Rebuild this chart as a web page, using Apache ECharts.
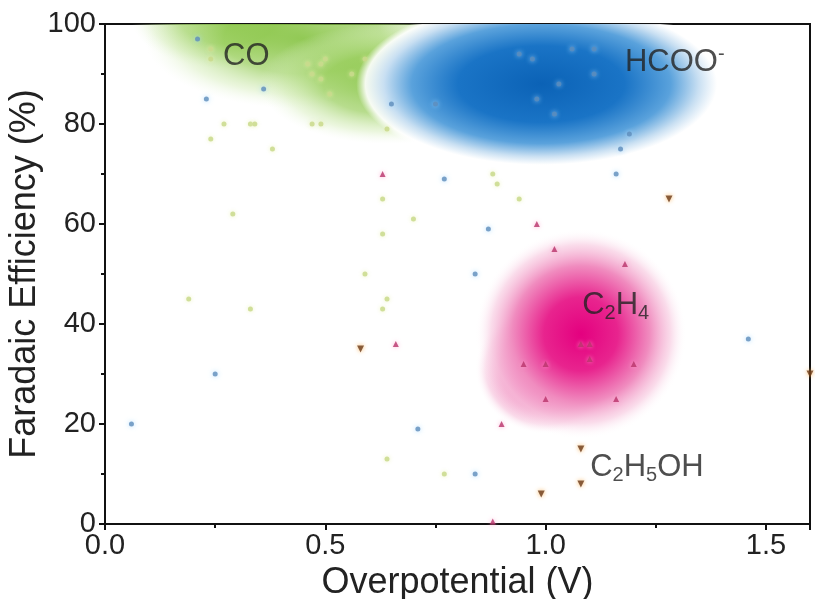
<!DOCTYPE html>
<html>
<head>
<meta charset="utf-8">
<script src="https://cdn.jsdelivr.net/npm/echarts@6/dist/echarts.min.js"></script>
<style>
  html, body { margin: 0; padding: 0; background: #fff; }
  #main { width: 815px; height: 599px; }
</style>
</head>
<body>
<div id="main"></div>
<script>
// points: [overpotential (V), faradaic efficiency (%)]
var hcooPoints = [
  [0.06, 20], [0.25, 30], [0.71, 19], [0.84, 10], [0.87, 59], [0.84, 50], [0.77, 69],
  [1.46, 37], [1.16, 70], [1.17, 75], [1.19, 78], [0.94, 94], [0.97, 93], [1.06, 95],
  [1.11, 95], [1.11, 90], [1.03, 88], [0.98, 85], [1.02, 82], [0.65, 84], [0.75, 84],
  [0.21, 97], [0.23, 85], [0.36, 87]
];
var coPoints = [
  [0.24, 95], [0.24, 93], [0.46, 92], [0.49, 92], [0.50, 93], [0.47, 90], [0.49, 89],
  [0.56, 90], [0.59, 93], [0.51, 86], [0.27, 80], [0.33, 80], [0.34, 80], [0.24, 77],
  [0.38, 75], [0.47, 80], [0.49, 80], [0.64, 79], [0.63, 65], [0.29, 62], [0.70, 61],
  [0.63, 58], [0.59, 50], [0.19, 45], [0.33, 43], [0.64, 45], [0.63, 43], [0.88, 70],
  [0.89, 68], [0.94, 65], [0.64, 13], [0.77, 10]
];
var c2h4Points = [
  [0.63, 70], [0.98, 60], [1.02, 55], [1.18, 52], [1.10, 36], [1.08, 36], [1.10, 33],
  [0.95, 32], [1.00, 32], [1.20, 32], [1.00, 25], [1.16, 25], [0.90, 20], [0.88, 0.5],
  [0.66, 36]
];
var c2h5ohPoints = [
  [0.58, 35], [1.28, 65], [1.08, 15], [1.08, 8], [0.99, 6], [1.60, 30]
];

// density clouds: [centre V, centre %, spread V, spread %]
var coCloud = [[0.28, 101, 0.22, 10], [0.45, 97, 0.36, 14], [0.64, 88, 0.29, 12]];
var hcooCloud = [[0.99, 88, 0.42, 17]];
var c2h4Cloud = [[1.0, 31, 0.16, 13], [1.08, 38, 0.24, 21]];

// product labels: [V, %, text]
var productLabels = [
  [0.268, 93.6, '{t|CO}'],
  [1.18, 92.4, '{t|HCOO}{sup|-}'],
  [1.083, 43.8, '{t|C}{sub|2}{t|H}{sub|4}'],
  [1.101, 11.4, '{t|C}{sub|2}{t|H}{sub|5}{t|OH}']
];

var xTicks = { min: 0, max: 1.6, step: 0.5 };
var yTicks = { min: 0, max: 100, step: 20 };

var FONT = 'Liberation Sans, Arial, sans-serif';

function cloudRenderer(stops) {
  return function (params, api) {
    var c = api.coord([api.value(0), api.value(1)]);
    var s = api.size([api.value(2), api.value(3)]);
    var cs = params.coordSys;
    return {
      type: 'group',
      clipPath: { type: 'rect', shape: { x: cs.x, y: cs.y, width: cs.width, height: cs.height } },
      children: [{
        type: 'circle',
        x: c[0], y: c[1],
        scaleX: s[0] / 100, scaleY: s[1] / 100,
        shape: { cx: 0, cy: 0, r: 100 },
        style: { fill: new echarts.graphic.RadialGradient(0.5, 0.5, 0.5, stops) }
      }]
    };
  };
}

var chart = echarts.init(document.getElementById('main'));

var option = {
  backgroundColor: '#fff',
  animation: false,
  textStyle: { fontFamily: FONT },
  grid: {
    left: 105, right: 5, top: 24, bottom: 75,
    outerBoundsMode: 'none',
    containLabel: false,
    show: true, borderColor: '#111', borderWidth: 2
  },
  xAxis: {
    type: 'value',
    min: xTicks.min, max: xTicks.max, interval: xTicks.step,
    name: 'Overpotential (V)',
    nameLocation: 'middle',
    nameGap: 35,
    nameTextStyle: { fontSize: 36, color: '#222', fontFamily: FONT },
    axisLine: { lineStyle: { color: '#111', width: 2 } },
    axisTick: { length: 6, lineStyle: { color: '#111', width: 2 } },
    minorTick: { show: true, splitNumber: 2, length: 4, lineStyle: { color: '#111', width: 2 } },
    splitLine: { show: false },
    axisLabel: {
      fontSize: 29, color: '#222', margin: 7, fontFamily: FONT, showMaxLabel: false,
      formatter: function (v) { return v.toFixed(1); }
    }
  },
  yAxis: {
    type: 'value',
    min: yTicks.min, max: yTicks.max, interval: yTicks.step,
    name: 'Faradaic Efficiency (%)',
    nameLocation: 'middle',
    nameGap: 62,
    nameMoveOverlap: false,
    nameTextStyle: { fontSize: 36, color: '#222', fontFamily: FONT },
    axisLine: { lineStyle: { color: '#111', width: 2 } },
    axisTick: { length: 6, lineStyle: { color: '#111', width: 2 } },
    minorTick: { show: true, splitNumber: 2, length: 4, lineStyle: { color: '#111', width: 2 } },
    splitLine: { show: false },
    axisLabel: { fontSize: 29, color: '#222', margin: 9, fontFamily: FONT }
  },
  series: [
    {
      type: 'custom', name: 'CO cloud', z: 1, silent: true,
      renderItem: cloudRenderer([
        { offset: 0, color: 'rgba(128,192,58,0.85)' },
        { offset: 0.5, color: 'rgba(145,202,80,0.65)' },
        { offset: 0.8, color: 'rgba(198,230,160,0.35)' },
        { offset: 1, color: 'rgba(235,246,225,0)' }
      ]),
      data: coCloud
    },
    {
      type: 'custom', name: 'HCOO cloud', z: 1, silent: true,
      renderItem: cloudRenderer([
        { offset: 0, color: '#0b62b6' },
        { offset: 0.45, color: '#1a74c6' },
        { offset: 0.7, color: '#5aa2dc' },
        { offset: 0.85, color: '#c8dff2' },
        { offset: 0.95, color: 'rgba(255,255,255,0.9)' },
        { offset: 1, color: 'rgba(255,255,255,0)' }
      ]),
      data: hcooCloud
    },
    {
      type: 'custom', name: 'C2H4 cloud', z: 1, silent: true,
      renderItem: cloudRenderer([
        { offset: 0, color: '#e4007f' },
        { offset: 0.35, color: '#e8248e' },
        { offset: 0.65, color: '#f08cbf' },
        { offset: 0.85, color: 'rgba(248,205,226,0.7)' },
        { offset: 1, color: 'rgba(255,255,255,0)' }
      ]),
      data: c2h4Cloud
    },
    {
      type: 'scatter', name: 'CO', z: 3, symbol: 'circle', symbolSize: 5,
      itemStyle: { color: '#c9d98c', opacity: 0.85, shadowBlur: 4, shadowColor: 'rgba(230,240,170,0.9)' },
      data: coPoints
    },
    {
      type: 'scatter', name: 'HCOO-', z: 3, symbol: 'circle', symbolSize: 5,
      itemStyle: { color: '#5e8cba', shadowBlur: 5, shadowColor: '#9fd6ff' },
      data: hcooPoints
    },
    {
      type: 'scatter', name: 'C2H4', z: 3, symbol: 'triangle', symbolSize: 6,
      itemStyle: { color: '#b8336a', shadowBlur: 4, shadowColor: '#ff9cc8' },
      data: c2h4Points
    },
    {
      type: 'scatter', name: 'C2H5OH', z: 3, symbol: 'triangle', symbolRotate: 180, symbolSize: 7,
      itemStyle: { color: '#6a3a18', shadowBlur: 4, shadowColor: '#f7a640' },
      data: c2h5ohPoints
    },
    {
      type: 'scatter', name: 'labels', z: 4, symbolSize: 0, silent: true,
      data: productLabels.map(function (p) {
        return { value: [p[0], p[1]], label: { formatter: p[2] } };
      }),
      label: {
        show: true, position: 'right', distance: 0,
        rich: {
          t: { fontSize: 31, color: '#222', fontFamily: FONT, lineHeight: 36 },
          sub: { fontSize: 20, color: '#222', fontFamily: FONT, lineHeight: 20, verticalAlign: 'bottom' },
          sup: { fontSize: 20, color: '#222', fontFamily: FONT, lineHeight: 20, verticalAlign: 'top' }
        }
      }
    }
  ]
};

chart.setOption(option);
</script>
</body>
</html>
